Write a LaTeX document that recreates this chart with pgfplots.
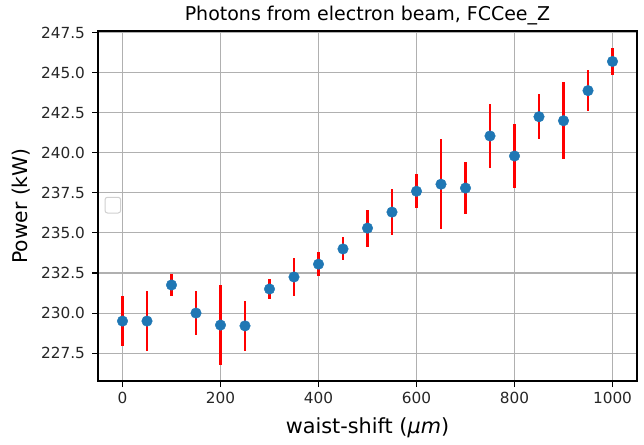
\documentclass[border=0pt]{standalone}
\usepackage{pgfplots}
\pgfplotsset{compat=1.18}
\usepackage{fontspec}
\setmainfont{DejaVu Sans}
\definecolor{mplblue}{HTML}{1F77B4}
\definecolor{gridgray}{HTML}{B0B0B0}
\begin{document}
\begin{tikzpicture}[x=1pt,y=1pt]
\useasboundingbox (-98,-63) rectangle (546,381);
\begin{axis}[
  at={(0,0)}, anchor=south west,
  scale only axis, width=539pt, height=350pt,
  xmin=-50, xmax=1050, ymin=225.76, ymax=247.6,
  xtick={0,200,400,600,800,1000},
  ytick={227.5,230,232.5,235,237.5,240,242.5,245,247.5},
  /pgf/number format/assume math mode=true,
  tick label style={font=\fontsize{15.3}{18}\selectfont, color=black!85},
  yticklabel style={xshift=-3.5pt, /pgf/number format/fixed, /pgf/number format/fixed zerofill, /pgf/number format/precision=1},
  xticklabel style={yshift=-2pt, /pgf/number format/fixed, /pgf/number format/1000 sep={}},
  tick align=outside, tick pos=left,
  major tick length=6pt,
  every tick/.style={black, line width=1.1pt},
  grid=major,
  major grid style={gridgray, line width=1.1pt},
  axis line style={black, line width=1.1pt},
  title={Photons from electron beam, FCCee\_Z},
  title style={at={(axis description cs:0.5,1)}, anchor=base, yshift=4pt, font=\fontsize{19}{22}\selectfont},
  xlabel={waist-shift ({\itshape μm})},
  xlabel style={at={(axis description cs:0.5,0)}, anchor=base, yshift=-52pt, font=\fontsize{20.8}{24}\selectfont},
  ylabel={Power (kW)},
  ylabel style={at={(axis description cs:-0.13,0.5)}, anchor=base, font=\fontsize{20.3}{24}\selectfont},
  clip=false,
]
\addplot[draw=none, mark=none, error bars/.cd, y dir=both, y explicit,
  error bar style={red, line width=2.4pt}, error mark=none]
  table[x=x, y=y, y error=e] {
x y e
0 229.5 1.55
50 229.5 1.85
100 231.75 0.7
150 230.0 1.4
200 229.25 2.5
250 229.2 1.55
300 231.5 0.6
350 232.25 1.2
400 233.05 0.75
450 234.0 0.72
500 235.3 1.15
550 236.3 1.45
600 237.6 1.05
650 238.04 2.8
700 237.8 1.65
750 241.05 2.0
800 239.8 2.0
850 242.25 1.4
900 242.0 2.4
950 243.88 1.3
1000 245.7 0.87
};
\addplot[only marks, mark=*, mark size=5.3pt, mark options={fill=mplblue, draw=mplblue}]
  table[x=x, y=y] {
x y
0 229.5
50 229.5
100 231.75
150 230.0
200 229.25
250 229.2
300 231.5
350 232.25
400 233.05
450 234.0
500 235.3
550 236.3
600 237.6
650 238.04
700 237.8
750 241.05
800 239.8
850 242.25
900 242.0
950 243.88
1000 245.7
};
\draw[gridgray!60, line width=1pt, rounded corners=2.5pt, fill=white]
  (rel axis cs:0.013,0.48) rectangle (rel axis cs:0.042,0.525);
\end{axis}
\end{tikzpicture}
\end{document}
